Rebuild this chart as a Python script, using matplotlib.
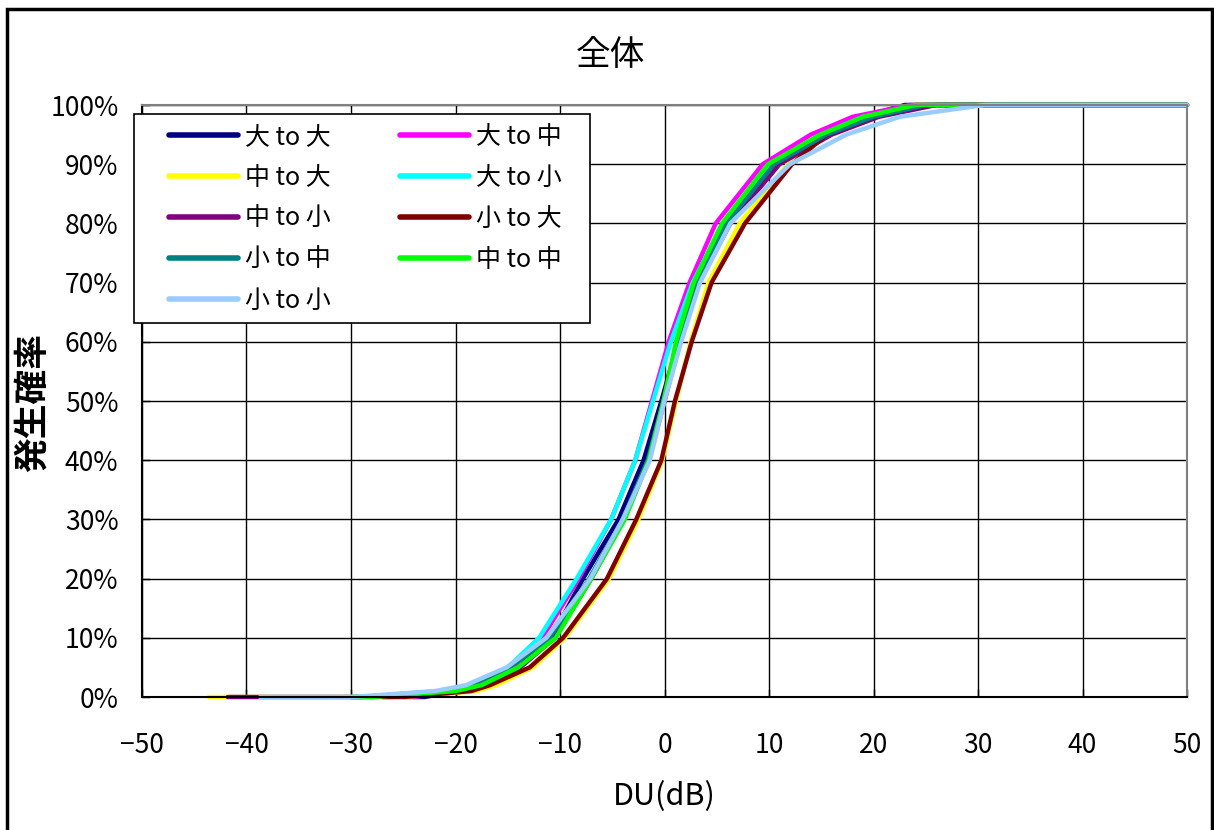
import matplotlib
matplotlib.use("Agg")
import matplotlib.pyplot as plt
from matplotlib.patches import Rectangle

plt.rcParams['font.family'] = ['Noto Sans CJK JP', 'DejaVu Sans']

# ---- data ----
labels = ["大 to 大", "大 to 中", "中 to 大", "大 to 小", "中 to 小",
          "小 to 大", "小 to 中", "中 to 中", "小 to 小"]
colors = ["#000080", "#FF00FF", "#FFFF00", "#00FFFF", "#800080",
          "#800000", "#008080", "#00FF00", "#99CCFF"]

pct_levels = [0, 0, 1, 2, 5, 10, 20, 30, 40, 50, 60, 70, 80, 90, 95, 98, 100, 100]

db_dai_dai = [-24.0, -23.0, -19.5, -17.5, -14.0, -10.8, -7.8, -4.4, -2.0, -0.3, 1.3, 3.3, 6.2, 10.8, 15.0, 19.0, 23.0, 50.0]
db_dai_chu = [-25.0, -24.0, -20.0, -18.0, -14.5, -11.7, -8.2, -5.1, -2.8, -1.2, 0.4, 2.4, 4.9, 9.4, 14.0, 18.0, 23.5, 50.0]
db_chu_dai = [-43.6, -25.0, -18.0, -16.1, -12.6, -9.5, -5.3, -2.5, -0.2, 1.1, 2.5, 4.2, 7.2, 11.8, 15.5, 20.0, 24.0, 50.0]
db_dai_sho = [-27.0, -26.0, -21.0, -18.8, -15.0, -12.0, -8.4, -5.1, -2.8, -1.1, 0.6, 2.7, 5.6, 10.3, 15.0, 19.0, 26.0, 50.0]
db_chu_sho = [-41.8, -28.0, -19.5, -17.0, -13.8, -10.5, -7.0, -3.9, -1.5, 0.0, 1.5, 3.3, 6.3, 11.0, 16.0, 20.5, 26.0, 50.0]
db_sho_dai = [-27.0, -25.0, -18.5, -16.7, -12.9, -9.7, -5.5, -2.7, -0.3, 1.0, 2.6, 4.5, 7.7, 12.2, 15.5, 20.0, 24.0, 50.0]
db_sho_chu = [-30.0, -29.0, -21.5, -18.5, -14.8, -11.0, -7.2, -4.0, -1.6, -0.1, 1.4, 3.1, 5.9, 10.5, 15.5, 20.0, 25.0, 50.0]
db_chu_chu = [-30.0, -28.0, -20.0, -17.5, -14.0, -10.4, -7.0, -3.8, -1.5, -0.1, 1.1, 2.8, 5.5, 9.9, 14.9, 19.0, 24.0, 50.0]
db_sho_sho = [-38.7, -30.0, -22.0, -19.0, -15.1, -11.3, -7.1, -4.0, -1.4, 0.0, 1.6, 3.4, 6.3, 12.0, 17.4, 22.5, 30.6, 50.0]

series = [db_dai_dai, db_dai_chu, db_chu_dai, db_dai_sho, db_chu_sho,
          db_sho_dai, db_sho_chu, db_chu_chu, db_sho_sho]

x_ticks = [-50, -40, -30, -20, -10, 0, 10, 20, 30, 40, 50]
y_ticks = [0, 10, 20, 30, 40, 50, 60, 70, 80, 90, 100]

# ---- figure ----
W, H = 1214, 830
fig = plt.figure(figsize=(W / 100, H / 100), dpi=100)
fig.patch.set_facecolor("white")

# outer frame
fig.patches.append(Rectangle((7 / W, -0.01), (1212 - 7) / W, 1 - 9 / H + 0.01,
                             transform=fig.transFigure, fill=False,
                             edgecolor="black", linewidth=2.5))

ax = fig.add_axes([142 / W, 1 - 697 / H, (1187 - 142) / W, (697 - 105) / H])

handles = []
for lab, col, xs in zip(labels, colors, series):
    h, = ax.plot(xs, pct_levels, color=col, linewidth=3.2, label=lab,
                 solid_capstyle="round", clip_on=False)
    handles.append(h)

ax.set_xlim(-50, 50)
ax.set_ylim(0, 100)
ax.set_xticks(x_ticks)
ax.set_xticklabels(["\u2212%d" % -v if v < 0 else "%d" % v for v in x_ticks])
ax.set_yticks(y_ticks)
ax.set_yticklabels(["%d%%" % v for v in y_ticks])
ax.grid(True, color="black", linewidth=1.0)
ax.set_axisbelow(True)
ax.tick_params(axis="both", direction="in", length=6, width=1, labelsize=19)
ax.tick_params(axis="y", pad=17)
ax.tick_params(axis="x", pad=25)
for s in ["left", "bottom"]:
    ax.spines[s].set_color("black")
    ax.spines[s].set_linewidth(1.5)
for s in ["top", "right"]:
    ax.spines[s].set_color("#808080")
    ax.spines[s].set_linewidth(1.5)

fig.text(664 / W, 1 - 797 / H, "DU(dB)", ha="center", va="center", fontsize=22)
fig.text(32 / W, 1 - 402 / H, "発生確率", ha="center", va="center",
         rotation=90, fontsize=25, fontweight="bold")
fig.text(610 / W, 1 - 55 / H, "全体", ha="center", va="center", fontsize=25)

# legend frame (white box) drawn manually, legend entries on top
box = Rectangle((134 / W, 1 - 323 / H), (590 - 134) / W, (323 - 114) / H,
                transform=fig.transFigure, facecolor="white",
                edgecolor="black", linewidth=1.2, zorder=4, clip_on=False)
ax.add_patch(box)

order = [0, 2, 4, 6, 8, 1, 3, 5, 7]
leg = ax.legend([handles[i] for i in order], [labels[i] for i in order],
                ncol=2, loc="upper left",
                bbox_to_anchor=(169 / W, 1 - 124 / H),
                bbox_transform=fig.transFigure, borderaxespad=0,
                borderpad=0, fontsize=18, handlelength=2.75,
                handletextpad=0.3, columnspacing=2.75, labelspacing=0.6,
                frameon=False)
leg.set_zorder(5)
for lh in leg.get_lines():
    lh.set_linewidth(4)

fig.savefig("out.png", dpi=100)
